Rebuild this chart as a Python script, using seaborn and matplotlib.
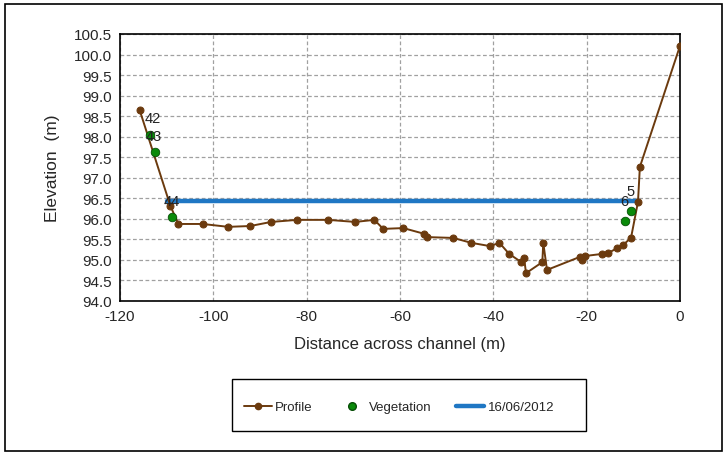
import matplotlib
matplotlib.use("Agg")
import matplotlib.pyplot as plt
from matplotlib.lines import Line2D
from matplotlib.patches import Rectangle
import seaborn as sns
import pandas as pd

# Surveyed cross-section (distance from right bank, elevation)
profile_x = [-115.8, -109.2, -107.5, -102.3, -96.8, -92.1, -87.6, -82.0, -75.4,
             -69.6, -65.5, -63.6, -59.3, -54.8, -54.2, -48.6, -44.7, -40.7,
             -38.7, -36.6, -34.0, -33.4, -33.0, -29.5, -29.3, -28.5, -21.4,
             -21.0, -20.3, -16.7, -15.4, -13.5, -12.2, -10.5, -9.0, -8.6, 0.0]
profile_y = [98.65, 96.31, 95.87, 95.87, 95.80, 95.82, 95.92, 95.97, 95.97,
             95.92, 95.97, 95.75, 95.77, 95.63, 95.55, 95.53, 95.41, 95.33,
             95.41, 95.14, 94.94, 95.04, 94.67, 94.94, 95.41, 94.75, 95.07,
             94.99, 95.09, 95.14, 95.16, 95.28, 95.36, 95.53, 96.41, 97.26, 100.21]

# Vegetation points along the section
veg_x = [-113.5, -112.4, -108.8, -10.5, -11.8]
veg_y = [98.04, 97.62, 96.04, 96.19, 95.94]

# Water surface on 16/06/2012
water_x = [-110.0, -9.0]
water_y = [96.42, 96.42]
water_label = "16/06/2012"

# Point labels
label_text = ["42", "43", "44", "5", "6"]
label_x = [-113.0, -112.7, -109.0, -10.7, -12.0]
label_y = [98.46, 98.02, 96.42, 96.68, 96.43]

x_ticks = [-120, -100, -80, -60, -40, -20, 0]
y_ticks = [94.0, 94.5, 95.0, 95.5, 96.0, 96.5, 97.0, 97.5, 98.0, 98.5, 99.0,
           99.5, 100.0, 100.5]

sns.set_style("white")
plt.rcParams["font.family"] = ["Liberation Sans", "DejaVu Sans"]
plt.rcParams["axes.unicode_minus"] = False

brown = "#6B3A0E"
green = "#0A8A0A"
blue = "#1F77C4"

fig = plt.figure(figsize=(7.26, 4.56), dpi=100)
ax = fig.add_axes([120 / 726, 1 - 301.7 / 456, 560 / 726, 266.7 / 456])

prof = pd.DataFrame({"x": profile_x, "y": profile_y})
veg = pd.DataFrame({"x": veg_x, "y": veg_y})
water = pd.DataFrame({"x": water_x, "y": water_y})

ax.set_xlim(-120, 0)
ax.set_ylim(94.0, 100.5)
ax.set_xticks(x_ticks)
ax.set_yticks(y_ticks)
ax.set_yticklabels([f"{v:.1f}" for v in y_ticks])
ax.grid(True, color="#A0A0A0", linestyle=(0, (3, 2)), linewidth=0.9)
ax.set_axisbelow(True)

sns.lineplot(data=water, x="x", y="y", ax=ax, color=blue, linewidth=3.2,
             legend=False, zorder=2)
sns.lineplot(data=prof, x="x", y="y", ax=ax, sort=False, estimator=None,
             color=brown, linewidth=1.4, marker="o", markersize=5,
             markeredgecolor=brown, legend=False, zorder=3)
sns.scatterplot(data=veg, x="x", y="y", ax=ax, color=green, s=38,
                edgecolor="#064d06", linewidth=0.6, legend=False, zorder=4)

for t, lx, ly in zip(label_text, label_x, label_y):
    ax.text(lx, ly, t, fontsize=10.5, ha="center", va="center",
            color="#222222", zorder=5)

for s in ax.spines.values():
    s.set_color("black")
    s.set_linewidth(1.2)
ax.tick_params(axis="both", direction="out", length=4, width=1,
               color="black", labelsize=11, pad=2)

ax.set_xlabel("Distance across channel (m)", fontsize=12, labelpad=9)
ax.set_ylabel("Elevation  (m)", fontsize=12.5, labelpad=10)

handles = [
    Line2D([], [], color=brown, linewidth=1.4, marker="o", markersize=4.5),
    Line2D([], [], color=green, linestyle="none", marker="o", markersize=5.5,
           markeredgecolor="#064d06"),
    Line2D([], [], color=blue, linewidth=3.2),
]
leg = fig.legend(handles, ["Profile", "Vegetation", water_label], ncol=3,
                 loc="center",
                 bbox_to_anchor=(399 / 726, 1 - 408 / 456),
                 frameon=False, fontsize=9.5, handlelength=2.1,
                 handletextpad=0.25, columnspacing=1.9, borderaxespad=0)

# legend box and border around the chart area
fig.patches.append(Rectangle((232 / 726, 1 - 432 / 456), 354 / 726, 52 / 456,
                             transform=fig.transFigure, fill=False,
                             edgecolor="black", linewidth=1.0))
fig.patches.append(Rectangle((5 / 726, 4 / 456), 717 / 726, 447 / 456,
                             transform=fig.transFigure, fill=False,
                             edgecolor="black", linewidth=1.2))

fig.savefig("out.png", dpi=100)
